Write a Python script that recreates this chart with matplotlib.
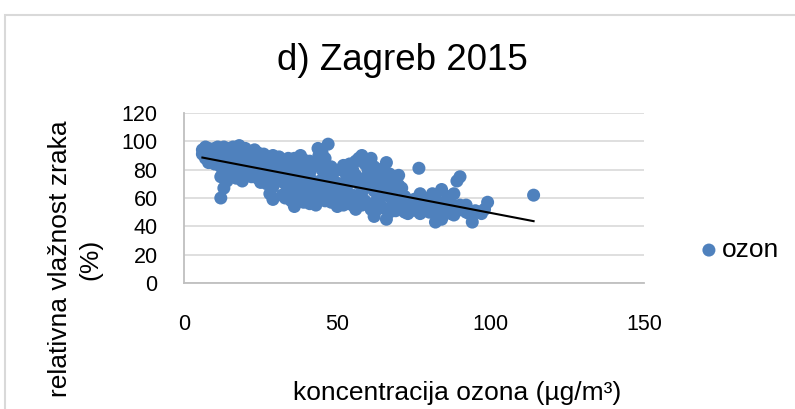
import numpy as np
import matplotlib
matplotlib.use("Agg")
import matplotlib.pyplot as plt
from matplotlib.patches import Rectangle

# Daily ozone concentration (µg/m³) vs. relative humidity (%), Zagreb 2015
ozon = [
    6, 7, 6, 8, 7, 8, 9, 9, 10, 10, 8, 10,
    11, 12, 13, 11, 12, 13, 12, 14, 13, 12, 14, 15, 15, 14, 15, 11, 13,
    16, 17, 18, 16, 17, 19, 18, 19, 17, 20, 20, 16, 18, 19, 20, 20,
    21, 22, 23, 24, 21, 22, 23, 24, 25, 22, 25, 24, 23, 21, 25,
    26, 27, 28, 29, 26, 27, 28, 29, 28, 29, 30, 30, 30, 27, 26, 29,
    31, 32, 33, 34, 31, 32, 33, 34, 32, 35, 35, 34, 31, 33, 35, 35,
    36, 37, 38, 39, 36, 37, 38, 39, 36, 37, 40, 40, 39, 38, 40, 36,
    41, 42, 43.7, 44, 41, 42, 43, 44, 41, 43, 45, 45, 42, 44, 45, 40,
    46, 47, 48, 49, 46, 47, 48, 49, 50, 46, 47, 49, 50, 48, 45,
    51, 52, 53, 54, 51, 52, 53, 54, 55, 51, 55, 53, 55, 52,
    56, 57, 58, 59, 56, 57, 58, 59, 56, 58, 60, 60, 57, 59, 55,
    61, 62, 63, 64, 61, 62, 63, 64, 62, 61, 65, 65, 63, 64, 60,
    66, 67, 68, 69, 66, 67, 68, 69, 66, 67, 70, 70, 68, 65,
    71, 72, 73, 74, 71, 72, 73, 75, 74, 70, 75,
    76.6, 77, 78, 79, 76, 77, 78, 80, 80, 79,
    81, 82, 83, 84, 81, 82, 83, 82, 84, 85, 85, 83,
    86, 87, 88, 89, 86, 87, 88, 90, 90, 89,
    91, 92, 93, 94, 95, 96, 97, 99, 98, 92,
    114,
]
vlaga = [
    94, 96, 91, 95, 88, 90, 93, 86, 95, 89, 85, 84,
    96, 94, 91, 88, 82, 78, 75, 72, 67, 60, 86, 95, 89, 80, 75, 92, 96,
    96, 94, 92, 88, 85, 83, 78, 72, 74, 95, 88, 80, 97, 90, 80, 76,
    93, 91, 89, 92, 86, 82, 78, 74, 71, 75, 85, 88, 94, 79, 80,
    91, 88, 85, 90, 82, 78, 73, 68, 63, 59, 87, 78, 72, 70, 75, 82,
    89, 86, 83, 88, 80, 76, 70, 65, 62, 58, 82, 76, 72, 60, 70, 86,
    88, 85, 90, 87, 78, 74, 68, 63, 54, 58, 82, 75, 57, 79, 68, 66,
    86, 83, 95, 90, 78, 72, 66, 60, 56, 55, 80, 73, 62, 84, 66, 62,
    88, 98, 82, 79, 76, 70, 65, 60, 54, 58, 62, 72, 67, 57, 92,
    80, 83, 76, 84, 70, 65, 60, 56, 55, 58, 72, 68, 62, 55,
    86, 88, 90, 84, 76, 70, 64, 58, 52, 55, 80, 68, 60, 74, 80,
    88, 82, 77, 80, 72, 65, 59, 55, 47, 52, 75, 62, 52, 69, 56,
    85, 77, 72, 75, 67, 61, 55, 51, 45, 50, 69, 57, 64, 53,
    67, 61, 57, 54, 53, 50, 49, 59, 51, 76, 54,
    81, 63, 57, 54, 51, 49, 53, 60, 50, 54,
    63, 60, 57, 66, 54, 51, 48, 43, 45, 53, 50, 46,
    61, 57, 63, 72, 52, 49, 48, 75, 55, 51,
    53, 50, 49, 43, 51, 50, 49, 57, 52, 55,
    62,
]

title = "d) Zagreb 2015"
x_label = "koncentracija ozona (µg/m³)"
y_label_lines = ["relativna vlažnost zraka", "(%)"]
series_name = "ozon"
x_ticks = [0, 50, 100, 150]
y_ticks = [0, 20, 40, 60, 80, 100, 120]

plt.rcParams["font.family"] = ["Liberation Sans", "DejaVu Sans"]

fig = plt.figure(figsize=(7.95, 4.09), dpi=100)
ax = fig.add_axes([184 / 795, 1 - 283 / 409, 460 / 795, 170 / 409])

blue = "#4F81BD"
ax.scatter(ozon, vlaga, s=88, color=blue, edgecolors="none", zorder=3,
           label=series_name)

# linear trend line over the data range
xs = np.array(ozon, dtype=float)
ys = np.array(vlaga, dtype=float)
k, n = np.polyfit(xs, ys, 1)
xt = np.array([xs.min(), xs.max()])
ax.plot(xt, k * xt + n, color="black", lw=1.5, zorder=4)

ax.set_xlim(x_ticks[0], x_ticks[-1])
ax.set_ylim(y_ticks[0], y_ticks[-1])
ax.set_xticks(x_ticks)
ax.set_yticks(y_ticks)
ax.grid(axis="y", color="#D9D9D9", lw=1.2, zorder=0)
ax.set_axisbelow(True)
for side in ("top", "right"):
    ax.spines[side].set_visible(False)
for side in ("left", "bottom"):
    ax.spines[side].set_color("#BFBFBF")
    ax.spines[side].set_linewidth(1.3)
ax.tick_params(axis="both", length=0, labelsize=15.5, colors="black")
ax.tick_params(axis="x", pad=22)
ax.tick_params(axis="y", pad=19)

fig.text(402 / 795, 1 - 60 / 409, title, ha="center", va="center", fontsize=26.5)
fig.text(457 / 795, 1 - 393 / 409, x_label, ha="center", va="center", fontsize=19)
# two-line vertical axis title
for xpix, line in zip((60, 90), y_label_lines):
    fig.text(xpix / 795, 1 - 259 / 409, line, ha="center", va="center",
             fontsize=19, rotation=90)

fig.legend(loc="center left", bbox_to_anchor=(701 / 795, 1 - 250 / 409),
           frameon=False, fontsize=19, handlelength=0.6, handletextpad=0.2,
           borderpad=0, borderaxespad=0)

# chart area border
fig.patches.append(Rectangle((5 / 795, -0.05), 1.0, 1 - 15 / 409 + 0.05,
                             transform=fig.transFigure, fill=False,
                             edgecolor="#D9D9D9", lw=1.5))

fig.savefig("out.png", dpi=100)
